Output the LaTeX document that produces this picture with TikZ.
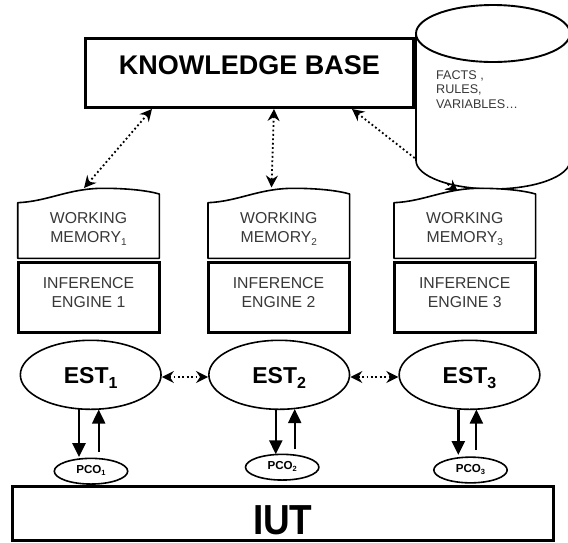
\documentclass[tikz,border=0pt]{standalone}
\usepackage{fontspec}
\setmainfont{Liberation Sans}
\usepackage{graphicx}
\usetikzlibrary{arrows.meta,shapes.geometric,calc}
\newcommand{\lowsub}[3]{\raisebox{-#2}{\fontsize{#1}{#1}\selectfont #3}}
\newcommand{\twolines}[2]{\begin{tabular}[t]{@{}c@{}}#1\\#2\end{tabular}}
\begin{document}
\begin{tikzpicture}[x=1pt,y=-1pt,
  heavy/.style={draw=black,line width=3pt},
  light/.style={draw=black,line width=1.6pt},
  greytext/.style={text=black!78},
  dotline/.style={line width=1.8pt,dash pattern=on 1.8pt off 2.6pt},
  dotboth/.style={dotline,>={Stealth[length=12pt,width=12pt,inset=4pt]},<->},
  dotend/.style={dotline,>={Stealth[length=12pt,width=12pt,inset=4pt]},->},
  downarr/.style={line width=2.6pt,-{Triangle[length=14pt,width=13pt]}},
  uparr/.style={line width=2pt,-{Triangle[length=14pt,width=13pt]}},
  iebox/.style={heavy,rectangle,minimum width=141pt,minimum height=69.7pt,inner sep=0pt,
    text height=11.3pt,text depth=29.7pt,font=\fontsize{15.8}{19}\selectfont,greytext},
  wmtext/.style={anchor=base,inner sep=0pt,font=\fontsize{15.8}{19}\selectfont,greytext},
  estnode/.style={ellipse,light,minimum width=140.7pt,minimum height=69pt,inner sep=0pt,
    text height=16.5pt,text depth=0pt,font=\fontsize{23}{23}\selectfont\bfseries},
  pconode/.style={ellipse,light,minimum width=73.4pt,minimum height=25.7pt,inner sep=0pt,
    text height=8.2pt,text depth=3.6pt,font=\fontsize{11.6}{11.6}\selectfont\bfseries},
  wmshape/.pic={\draw[light,line join=round,fill=white] (-70.8,0) -- (-70.8,-55.6)
    .. controls (-40,-57) and (-20,-70) .. (15,-70)
    .. controls (40,-70) and (60,-67.5) .. (70.8,-64.3) -- (70.8,0) -- cycle;}
]
\useasboundingbox (0,0) rectangle (568,542);

% knowledge base
\node[heavy,rectangle,minimum width=328pt,minimum height=69.2pt,inner sep=0pt,
  text height=19.4pt,text depth=16.4pt,font=\fontsize{27}{27}\selectfont\bfseries]
  (kb) at (249.3,72.9) {KNOWLEDGE BASE};

% end points of the dotted connectors
\coordinate (k1) at ([xshift=-97.3pt]kb.south);
\coordinate (k2) at ([xshift=24.7pt]kb.south);
\coordinate (k3) at ([xshift=102.7pt]kb.south);
\coordinate (m1) at (84,188);
\coordinate (m2) at (271.5,187.5);
\coordinate (m3) at (458,192);

\draw[dotboth] (k1) -- (m1);
\draw[dotboth] (k2) -- (m2);
\draw[dotboth] (k3) -- (m3);

% database cylinder
\fill[white] (416,33.5) -- (416,160.5) arc[start angle=180,end angle=360,x radius=77pt,y radius=28.5pt]
  -- (570,33.5) -- cycle;
\draw[light] (416,33.5) -- (416,160.5) arc[start angle=180,end angle=360,x radius=77pt,y radius=28.5pt]
  -- (570,33.5);
\draw[light,line width=1.9pt,fill=white] (493,33.5) ellipse[x radius=77pt,y radius=28.5pt];
\node[anchor=base west,inner sep=0pt,font=\fontsize{12.6}{14.8}\selectfont,greytext]
  (facts) at (436,79) {\begin{tabular}[t]{@{}l@{}}FACTS ,\\RULES,\\VARIABLES…\end{tabular}};
\draw[dotend] ($(k3)!0.9!(m3)$) -- (m3);

% working memories
\pic (wmA) at (88.5,258.3) {wmshape};
\pic (wmB) at (278.8,258.3) {wmshape};
\pic (wmC) at (464.8,258.3) {wmshape};
\node[wmtext] (wm1) at (88.5,223) {\twolines{WORKING}{MEMORY\lowsub{10}{3pt}{1}}};
\node[wmtext] (wm2) at (278.8,223) {\twolines{WORKING}{MEMORY\lowsub{10}{3pt}{2}}};
\node[wmtext] (wm3) at (464.8,223) {\twolines{WORKING}{MEMORY\lowsub{10}{3pt}{3}}};

% inference engines
\node[iebox] (ie1) at (88.5,297.2) {\twolines{INFERENCE}{ENGINE 1}};
\node[iebox] (ie2) at (278.5,297.2) {\twolines{INFERENCE}{ENGINE 2}};
\node[iebox] (ie3) at (464.7,297.2) {\twolines{INFERENCE}{ENGINE 3}};

% ESTs
\node[estnode] (est1) at (90.7,374.8) {EST\lowsub{16}{5pt}{1}};
\node[estnode] (est2) at (279.2,374.8) {EST\lowsub{16}{5pt}{2}};
\node[estnode] (est3) at (469.5,374.8) {EST\lowsub{16}{5pt}{3}};
\draw[dotboth] ([yshift=-2.2pt]est1.east) -- ([yshift=-2.2pt]est2.west);
\draw[dotboth] ([yshift=-2.2pt]est2.east) -- ([yshift=-2.2pt]est3.west);

% PCOs
\node[pconode] (pco1) at (91,471.2) {PCO\lowsub{7.5}{2pt}{1}};
\node[pconode] (pco2) at (282.2,467.2) {PCO\lowsub{7.5}{2pt}{2}};
\node[pconode] (pco3) at (470.5,470) {PCO\lowsub{7.5}{2pt}{3}};

\coordinate (d1s) at (79,409); \coordinate (d1e) at (79,457);
\coordinate (u1s) at (98.7,451.7); \coordinate (u1e) at (98.7,409.5);
\coordinate (d2s) at (275.8,409); \coordinate (d2e) at (275.8,454.3);
\coordinate (u2s) at (294.7,449.3); \coordinate (u2e) at (294.7,409);
\coordinate (d3s) at (458.3,409.5); \coordinate (d3e) at (458.3,455);
\coordinate (u3s) at (476.4,450); \coordinate (u3e) at (476.4,409.5);
\draw[downarr] (d1s) -- (d1e);
\draw[uparr] (u1s) -- (u1e);
\draw[downarr] (d2s) -- (d2e);
\draw[uparr] (u2s) -- (u2e);
\draw[downarr] (d3s) -- (d3e);
\draw[uparr] (u3s) -- (u3e);

% IUT
\node[heavy,rectangle,minimum width=540.5pt,minimum height=53.6pt,inner sep=0pt,
  text height=41.6pt,text depth=0pt,font=\fontsize{42}{42}\selectfont\bfseries]
  (iut) at (282.8,513.6) {\scalebox{0.88}[1]{IUT}};
\end{tikzpicture}
\end{document}
